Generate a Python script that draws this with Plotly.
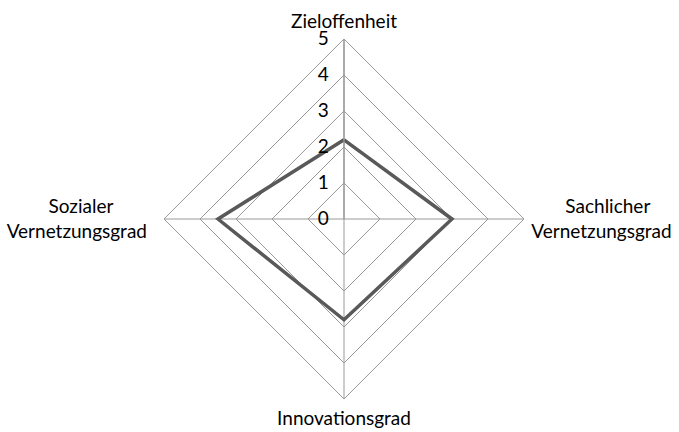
import plotly.graph_objects as go

# ── Data ──────────────────────────────────────────────────────────────────────
CATEGORIES = ["Zieloffenheit", "Sachlicher Vernetzungsgrad",
              "Innovationsgrad", "Sozialer Vernetzungsgrad"]
VALUES     = [2.2, 3.0, 2.8, 3.5]
RADIAL_TICKS = [0, 1, 2, 3, 4, 5]

# two-line labels, padded with no-break spaces so the lines look centred
NB = "\u00a0"
TICK_TEXT = [
    "Zieloffenheit",
    NB * 7 + "Sachlicher<br>Vernetzungsgrad",
    "Innovationsgrad",
    "Sozialer" + NB * 9 + "<br>Vernetzungsgrad" + NB * 2,
]

GRID = "#999999"
LINE = "#595959"
FONT = "Lato"
FSIZE = 19

W, H = 679, 432
CX, CY, R = 344, 219, 180

fig = go.Figure()
fig.add_trace(go.Scatterpolar(
    r=VALUES + VALUES[:1],
    theta=CATEGORIES + CATEGORIES[:1],
    mode="lines",
    line=dict(color=LINE, width=3.5),
    showlegend=False,
    hoverinfo="skip",
))

fig.update_layout(
    width=W, height=H,
    margin=dict(l=0, r=0, t=0, b=0),
    paper_bgcolor="white",
    font=dict(family=FONT, size=FSIZE, color="#000000"),
    polar=dict(
        domain=dict(x=[(CX - R) / W, (CX + R) / W],
                    y=[(H - CY - R) / H, (H - CY + R) / H]),
        bgcolor="white",
        gridshape="linear",
        angularaxis=dict(
            direction="clockwise", rotation=90,
            tickmode="array", tickvals=CATEGORIES, ticktext=TICK_TEXT,
            showline=True, linecolor=GRID, linewidth=1,
            gridcolor=GRID, gridwidth=1.3,
            ticks="outside", ticklen=3, tickcolor="rgba(0,0,0,0)",
            tickfont=dict(size=FSIZE, family=FONT),
        ),
        radialaxis=dict(
            range=[0, 5], tickvals=RADIAL_TICKS, angle=90,
            side="counterclockwise",
            showline=True, linecolor=GRID, linewidth=1.3,
            gridcolor=GRID, gridwidth=1,
            ticks="outside", ticklen=8, tickcolor="rgba(0,0,0,0)",
            tickfont=dict(size=FSIZE, family=FONT),
            tickangle=90,
        ),
    ),
)

# page has a default body margin; drop it so the figure fills the window
fig.write_html("out.html", config={"displayModeBar": False},
               post_script="document.body.style.margin='0';")
